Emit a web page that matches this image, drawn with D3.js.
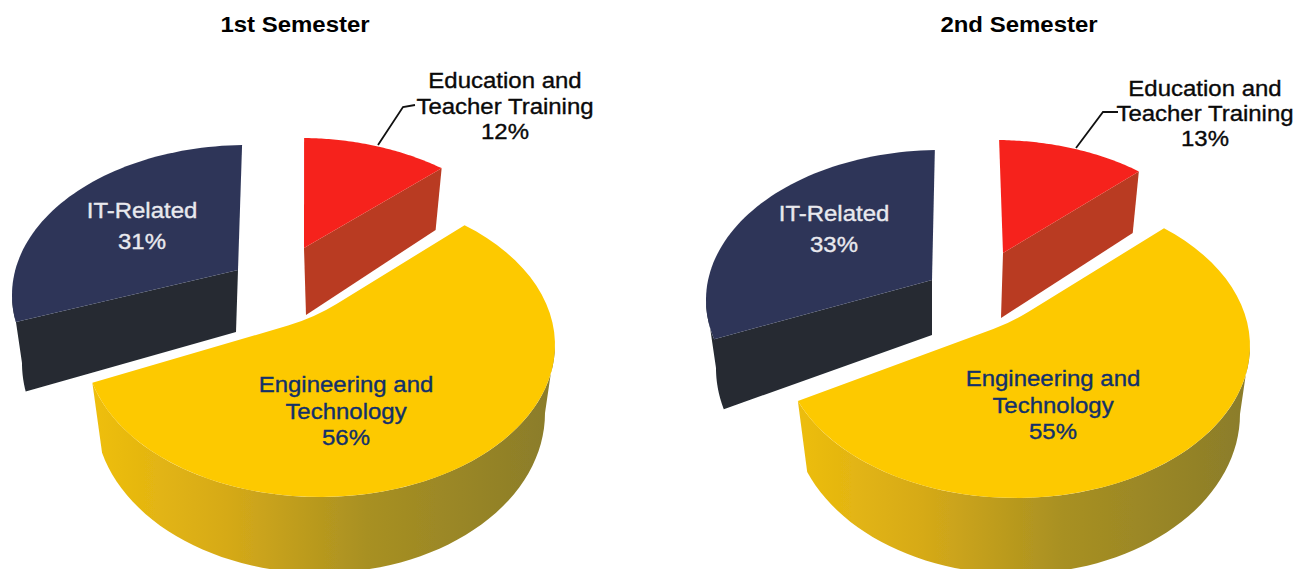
<!DOCTYPE html>
<html><head><meta charset="utf-8">
<style>html,body{margin:0;padding:0;background:#fff}svg{display:block}text{font-family:"Liberation Sans",Arial,sans-serif}</style>
<script src="https://cdn.jsdelivr.net/npm/d3@7"></script></head>
<body><svg id="c" width="1311" height="569"></svg>
<script>
const semesters = ["1st Semester", "2nd Semester"];
const categories = ["Education and Teacher Training", "Engineering and Technology", "IT-Related"];
const firstSemesterValues = [12, 56, 31];
const secondSemesterValues = [13, 55, 33];
const labelLines = [["Education and", "Teacher Training"], ["Engineering and", "Technology"], ["IT-Related"]];

// Layout (perspective geometry of each exploded slice)
const charts = [
  { title: [295, 32], values: firstSemesterValues,
    slices: [
      { c: [300, 288], r: [235, 150], apex: [304, 248], apexDrop: [2, 67], inset: [1, 0.7], label: [505, 88], gap: 25.5, leader: [[378, 145], [403, 107], [415, 105]] },
      { c: [320, 345], r: [235, 152], apex: [314, 318], apexDrop: [0, 68], inset: [1.6, 0.5], label: [346, 392], gap: 26.5 },
      { c: [247, 295], r: [235, 150], apex: [238, 270], apexDrop: [-2, 62], inset: [4.5, -1.2], label: [142, 218], gap: 31 }
    ] },
  { title: [1019, 32], values: secondSemesterValues,
    slices: [
      { c: [995, 290], r: [235, 150], apex: [1003, 253], apexDrop: [-2, 65], inset: [1, -1.2], label: [1205, 96], gap: 25, leader: [[1076, 148], [1103, 112], [1118, 112]] },
      { c: [1016, 346], r: [234, 152], apex: [1012, 322], apexDrop: [0, 68], inset: [0.3, -1.4], label: [1053, 386], gap: 26.5 },
      { c: [941, 300], r: [235, 150], apex: [932, 280], apexDrop: [0, 55], inset: [4.7, -1.5], label: [834, 221], gap: 31 }
    ] }
];
const topColors = ["#f6241b", "#fdc900", "#2f3659"];
const wallColors = ["#b93a20", null, "#252b33"];
const textColors = ["#0a0a0a", "#12306a", "#e9e9ee"];
const rimDrop = 68, rimShrinkX = 10, rimGrowY = 8;
const fontSize = 22, stretchX = 1.09;

const svg = d3.select("#c");
const defs = svg.append("defs");
defs.append("filter").attr("id", "soft").attr("x", "-5%").attr("y", "-5%").attr("width", "110%").attr("height", "110%")
  .append("feGaussianBlur").attr("stdDeviation", 0.7);

const rad = Math.PI / 180;
// the drawn pie is seen in perspective: front slices look wider than back ones
const warp = d3.scaleLinear().domain([0, 45, 245, 360]).range([0, 37.5, 253, 360]);
const pie = d3.pie().sort(null).value(d => d).startAngle(0).endAngle(2 * Math.PI);
const onRim = (s, a) => [s.c[0] + s.r[0] * Math.sin(a), s.c[1] - s.r[1] * Math.cos(a)];
const onLow = (s, a) => [s.c[0] + (s.r[0] - rimShrinkX) * Math.sin(a), s.c[1] + rimDrop - (s.r[1] + rimGrowY) * Math.cos(a)];
const line = d3.line();
const sweep = (a0, a1) => d3.range(0, 61).map(i => a0 + (a1 - a0) * i / 60);

charts.forEach((chart, ci) => {
  const arcs = pie(chart.values);
  const gradId = "wall" + ci;
  const sl = chart.slices[1];
  const grad = defs.append("linearGradient").attr("id", gradId).attr("gradientUnits", "userSpaceOnUse")
    .attr("x1", sl.c[0] - sl.r[0]).attr("x2", sl.c[0] + sl.r[0]).attr("y1", 0).attr("y2", 0);
  [[0, "#f0c00c"], [0.3, "#d6aa18"], [0.6, "#a89022"], [1, "#8a7c2a"]].forEach(([o, col]) =>
    grad.append("stop").attr("offset", o).attr("stop-color", col));

  const g = svg.append("g").attr("filter", "url(#soft)");
  // painter's order: IT, Education, Engineering
  [2, 0, 1].forEach(i => {
    const s = chart.slices[i], arc = arcs[i];
    const a0 = (warp(arc.startAngle / rad) + s.inset[0]) * rad;
    const a1 = (warp(arc.endAngle / rad) + s.inset[1]) * rad;
    const apexLow = [s.apex[0] + s.apexDrop[0], s.apex[1] + s.apexDrop[1]];
    if (i === 0) {
      g.append("path").attr("fill", wallColors[0])
        .attr("d", line([s.apex, onRim(s, a1), onLow(s, a1), apexLow]) + "Z");
    } else if (i === 2) {
      const side = sweep(a0, 270 * rad);
      g.append("path").attr("fill", wallColors[2])
        .attr("d", line([s.apex, ...side.map(a => onRim(s, a)), ...side.slice().reverse().map(a => onLow(s, a)), apexLow]) + "Z");
    } else {
      const side = sweep(90 * rad, a1);
      g.append("path").attr("fill", `url(#${gradId})`)
        .attr("d", line([...side.map(a => onRim(s, a)), ...side.slice().reverse().map(a => onLow(s, a))]) + "Z");
    }
    // top face
    const rim = sweep(a0, a1).map(a => onRim(s, a));
    let d = line(rim);
    if (i === 1) {
      const p = d3.path();
      const end = rim[rim.length - 1], start = rim[0];
      p.moveTo(end[0], end[1]);
      p.arcTo(s.apex[0], s.apex[1], start[0], start[1], 200);
      p.lineTo(start[0], start[1]);
      d += p.toString().replace(/^M/, "L") + "Z";
    } else {
      d += "L" + s.apex[0] + "," + s.apex[1] + "Z";
    }
    g.append("path").attr("fill", topColors[i]).attr("d", d);
  });

  // title
  svg.append("text").attr("transform", `translate(${chart.title[0]},${chart.title[1]}) scale(${stretchX},1)`)
    .attr("text-anchor", "middle").attr("font-weight", "bold").attr("font-size", fontSize).attr("fill", "#000")
    .text(semesters[ci]);

  // labels
  chart.slices.forEach((s, i) => {
    const lines = [...labelLines[i], chart.values[i] + "%"];
    lines.forEach((t, k) => {
      svg.append("text").attr("transform", `translate(${s.label[0]},${s.label[1] + k * s.gap}) scale(${stretchX},1)`)
        .attr("text-anchor", "middle").attr("font-size", fontSize).attr("fill", textColors[i])
        .attr("stroke", textColors[i]).attr("stroke-width", 0.35).text(t);
    });
    if (s.leader) {
      svg.append("path").attr("fill", "none").attr("stroke", "#111").attr("stroke-width", 1.8)
        .attr("d", d3.line().curve(d3.curveLinear)(s.leader));
    }
  });
});
</script></body></html>
